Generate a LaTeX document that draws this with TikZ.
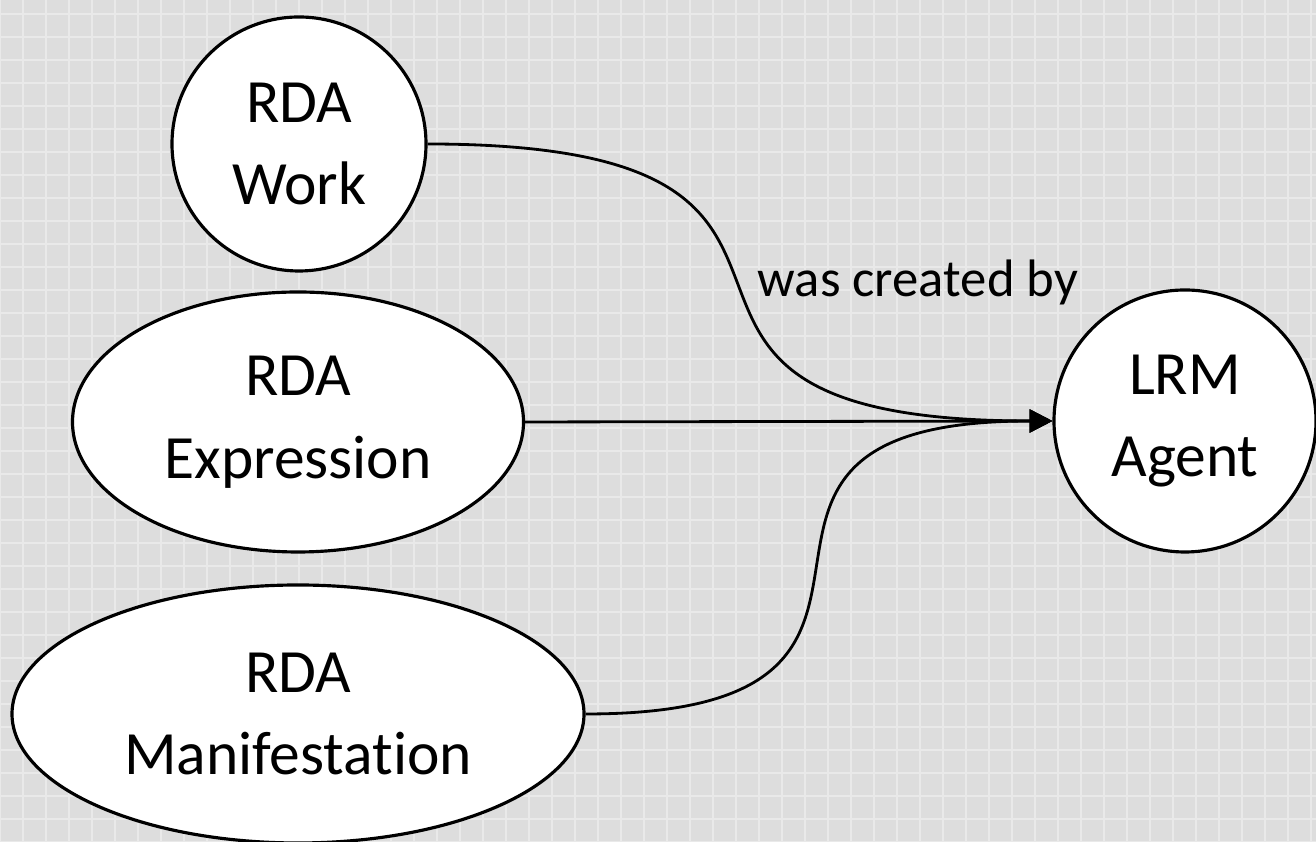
\documentclass[tikz,border=0pt]{standalone}
\usepackage{fontspec}
\setmainfont{Carlito}[Ligatures=NoCommon]
\usepackage{tikz}
\usetikzlibrary{arrows.meta,shapes.geometric}

\begin{document}
\begin{tikzpicture}[->,>={Triangle[length=13pt,width=13pt]},auto,line width=1.6pt]
\tikzstyle{entity}=[ellipse,fill=white,draw=black,line width=1.8pt,inner sep=0pt,align=center,font=\fontsize{35}{47}\selectfont]
\useasboundingbox (0,0) rectangle (26.32,16.84);
% background
\fill[gray!27] (0,0) rectangle (26.32,16.84);
\draw[-,white!35!gray!27,line width=1.4pt,step=0.46] (0,0) grid (26.32,16.84);
\node[entity,minimum width=5.08cm,minimum height=5.08cm]  (work)  at (5.98,13.96) {RDA\\Work};
\node[entity,minimum width=9.02cm,minimum height=5.2cm]   (expr)  at (5.96,8.4)   {RDA\\Expression};
\node[entity,minimum width=11.44cm,minimum height=5.16cm] (manif) at (5.96,2.56)  {RDA\\Manifestation};
\node[entity,minimum width=5.24cm,minimum height=5.24cm]  (agent) at (23.7,8.42)  {LRM\\Agent};
\path (work.east) edge [out=0,in=180,looseness=1.9] node[right,pos=0.5,xshift=6pt,font=\fontsize{30}{36}\selectfont] {was created by} (agent.west);
\path (expr.east) edge (agent.west);
\path (manif.east) edge [out=0,in=180,looseness=1.9] (agent.west);
\end{tikzpicture}
\end{document}
